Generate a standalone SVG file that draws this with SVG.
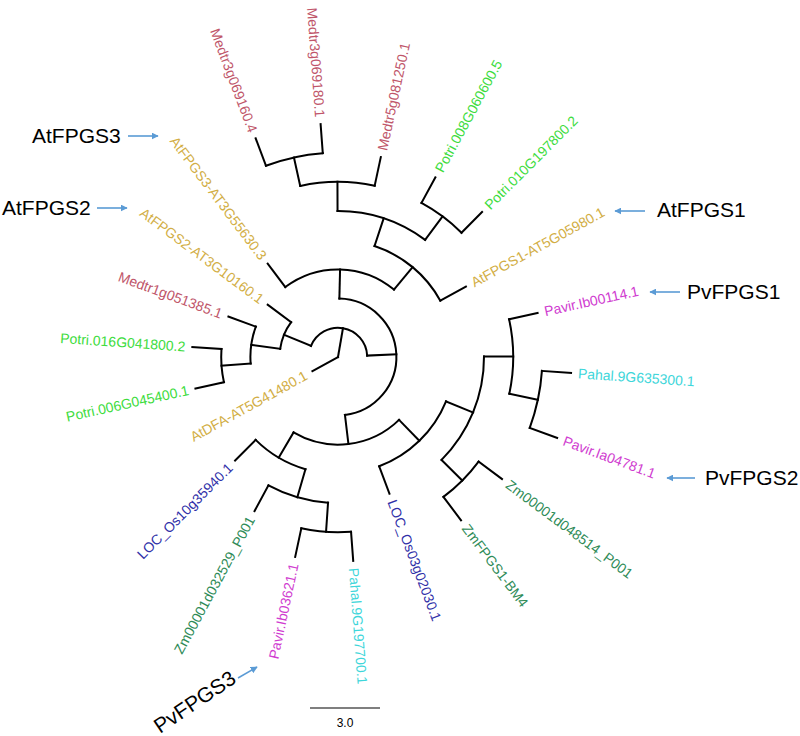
<svg xmlns="http://www.w3.org/2000/svg" width="800" height="736" viewBox="0 0 800 736">
<defs>
<marker id="ah" viewBox="0 0 10 10" refX="9" refY="5" markerWidth="7" markerHeight="7" orient="auto" markerUnits="userSpaceOnUse"><path d="M0,0 L10,5 L0,10 z" fill="#5B9BD5"/></marker>
</defs>
<style>
.br line,.br path{stroke:#000;stroke-width:2;fill:none;stroke-linecap:square}
.lb{font-family:"Liberation Sans",Arial,sans-serif;font-size:14px}
.fl{text-anchor:end}
.medtr{fill:#C0566A}.potri{fill:#3DDC3D}.at{fill:#D2AE45}.pavir{fill:#D03CD0}.pahal{fill:#3ED6DA}.zm{fill:#2E8B57}.loc{fill:#3030A8}
.ann{font-family:"Liberation Sans",Arial,sans-serif;font-size:21px;fill:#000}
.arr{stroke:#5B9BD5;stroke-width:1.6;fill:none;marker-end:url(#ah)}
</style>
<rect width="800" height="736" fill="#fff"/>
<g transform="translate(338,357)">
<g id="connectors" class="br">
<path d="M-27.01,-11.09 A29.2,29.2 0 0 1 29.17,-1.40"/>
<path d="M-57.83,-8.13 A58.4,58.4 0 0 1 -46.86,-34.85"/>
<path d="M-87.36,6.52 A87.6,87.6 0 0 1 -82.18,-30.35"/>
<path d="M-114.06,25.18 A116.8,116.8 0 0 1 -116.53,-7.96"/>
<path d="M1.38,-58.38 A58.4,58.4 0 0 1 6.95,57.99"/>
<path d="M-52.72,-69.96 A87.6,87.6 0 0 1 55.96,-67.40"/>
<path d="M36.54,-110.94 A116.8,116.8 0 0 1 102.33,-56.30"/>
<path d="M-0.46,-146 A146,146 0 0 1 87.14,-117.16"/>
<path d="M-37.77,-171.09 A175.2,175.2 0 0 1 36.70,-171.31"/>
<path d="M-72.05,-191.29 A204.4,204.4 0 0 1 -15.22,-203.83"/>
<path d="M83.46,-154.05 A175.2,175.2 0 0 1 123.50,-124.27"/>
<path d="M61.03,62.85 A87.6,87.6 0 0 1 -44.46,75.48"/>
<path d="M108.05,44.36 A116.8,116.8 0 0 1 41.17,109.31"/>
<path d="M146,-0.46 A146,146 0 0 1 103.56,102.91"/>
<path d="M171.09,-37.77 A175.2,175.2 0 0 1 171.31,36.70"/>
<path d="M203.92,13.94 A204.4,204.4 0 0 1 191.74,70.81"/>
<path d="M140.59,104.56 A175.2,175.2 0 0 1 105.44,139.92"/>
<path d="M-32.55,112.17 A116.8,116.8 0 0 1 -82.33,82.85"/>
<path d="M-9.96,145.66 A146,146 0 0 1 -69.55,128.37"/>
<path d="M13.05,174.71 A175.2,175.2 0 0 1 -36.70,171.31"/>
<line x1="0" x2="29.2" transform="rotate(-80.21)"/>
<line x1="0" x2="29.2" transform="rotate(151.18)"/>
<line x1="29.2" x2="58.4" transform="rotate(202.32)"/>
<line x1="29.2" x2="58.4" transform="rotate(-2.74)"/>
<line x1="58.4" x2="87.6" transform="rotate(188)"/>
<line x1="58.4" x2="87.6" transform="rotate(216.64)"/>
<line x1="87.6" x2="116.8" transform="rotate(175.73)"/>
<line x1="87.6" x2="116.8" transform="rotate(200.27)"/>
<line x1="116.8" x2="146" transform="rotate(167.55)"/>
<line x1="116.8" x2="146" transform="rotate(183.91)"/>
<line x1="58.4" x2="87.6" transform="rotate(-88.65)"/>
<line x1="58.4" x2="87.6" transform="rotate(83.17)"/>
<line x1="87.6" x2="116.8" transform="rotate(-127)"/>
<line x1="87.6" x2="116.8" transform="rotate(-50.30)"/>
<line x1="116.8" x2="146" transform="rotate(-71.77)"/>
<line x1="116.8" x2="146" transform="rotate(-28.82)"/>
<line x1="146" x2="175.2" transform="rotate(-90.18)"/>
<line x1="146" x2="175.2" transform="rotate(-53.36)"/>
<line x1="175.2" x2="204.4" transform="rotate(-102.45)"/>
<line x1="175.2" x2="204.4" transform="rotate(-77.91)"/>
<line x1="204.4" x2="233.6" transform="rotate(-110.64)"/>
<line x1="204.4" x2="233.6" transform="rotate(-94.27)"/>
<line x1="175.2" x2="204.4" transform="rotate(-61.55)"/>
<line x1="175.2" x2="204.4" transform="rotate(-45.18)"/>
<line x1="87.6" x2="116.8" transform="rotate(45.84)"/>
<line x1="87.6" x2="116.8" transform="rotate(120.5)"/>
<line x1="116.8" x2="146" transform="rotate(22.32)"/>
<line x1="116.8" x2="146" transform="rotate(69.36)"/>
<line x1="146" x2="175.2" transform="rotate(-0.18)"/>
<line x1="146" x2="175.2" transform="rotate(44.82)"/>
<line x1="175.2" x2="204.4" transform="rotate(-12.45)"/>
<line x1="175.2" x2="204.4" transform="rotate(12.09)"/>
<line x1="204.4" x2="233.6" transform="rotate(3.91)"/>
<line x1="204.4" x2="233.6" transform="rotate(20.27)"/>
<line x1="175.2" x2="204.4" transform="rotate(36.64)"/>
<line x1="175.2" x2="204.4" transform="rotate(53)"/>
<line x1="116.8" x2="146" transform="rotate(106.18)"/>
<line x1="116.8" x2="146" transform="rotate(134.82)"/>
<line x1="146" x2="175.2" transform="rotate(93.91)"/>
<line x1="146" x2="175.2" transform="rotate(118.45)"/>
<line x1="175.2" x2="204.4" transform="rotate(85.73)"/>
<line x1="175.2" x2="204.4" transform="rotate(102.09)"/>
</g>
<g id="leaf-AtFPGS3"><text class="lb at fl" transform="rotate(53)" x="-123.8" dy="0.35em">AtFPGS3-AT3G55630.3</text></g>
<g id="leaf-Medtr3g069160"><text class="lb medtr fl" transform="rotate(69.36)" x="-240.6" dy="0.35em">Medtr3g069160.4</text></g>
<g id="leaf-Medtr3g069180"><text class="lb medtr fl" transform="rotate(85.73)" x="-240.6" dy="0.35em">Medtr3g069180.1</text></g>
<g id="leaf-Medtr5g081250"><text class="lb medtr" transform="rotate(-77.91)" x="211.4" dy="0.35em">Medtr5g081250.1</text></g>
<g id="leaf-Potri008"><text class="lb potri" transform="rotate(-61.55)" x="211.4" dy="0.35em">Potri.008G060600.5</text></g>
<g id="leaf-Potri010"><text class="lb potri" transform="rotate(-45.18)" x="211.4" dy="0.35em">Potri.010G197800.2</text></g>
<g id="leaf-AtFPGS1"><text class="lb at" transform="rotate(-28.82)" x="153" dy="0.35em">AtFPGS1-AT5G05980.1</text></g>
<g id="leaf-PavirIb00114"><text class="lb pavir" transform="rotate(-12.45)" x="211.4" dy="0.35em">Pavir.Ib00114.1</text></g>
<g id="leaf-Pahal9G635300"><text class="lb pahal" transform="rotate(3.91)" x="240.6" dy="0.35em">Pahal.9G635300.1</text></g>
<g id="leaf-PavirIa04781"><text class="lb pavir" transform="rotate(20.27)" x="240.6" dy="0.35em">Pavir.Ia04781.1</text></g>
<g id="leaf-Zm048514"><text class="lb zm" transform="rotate(36.64)" x="211.4" dy="0.35em">Zm00001d048514_P001</text></g>
<g id="leaf-ZmFPGS1"><text class="lb zm" transform="rotate(53)" x="211.4" dy="0.35em">ZmFPGS1-BM4</text></g>
<g id="leaf-LOCOs03"><text class="lb loc" transform="rotate(69.36)" x="153" dy="0.35em">LOC_Os03g02030.1</text></g>
<g id="leaf-Pahal9G197700"><text class="lb pahal" transform="rotate(85.73)" x="211.4" dy="0.35em">Pahal.9G197700.1</text></g>
<g id="leaf-PavirIb03621"><text class="lb pavir fl" transform="rotate(282.09)" x="-211.4" dy="0.35em">Pavir.Ib03621.1</text></g>
<g id="leaf-Zm032529"><text class="lb zm fl" transform="rotate(298.45)" x="-182.2" dy="0.35em">Zm00001d032529_P001</text></g>
<g id="leaf-LOCOs10"><text class="lb loc fl" transform="rotate(314.82)" x="-153" dy="0.35em">LOC_Os10g35940.1</text></g>
<g id="leaf-AtDFA"><text class="lb at fl" transform="rotate(331.18)" x="-36.2" dy="0.35em">AtDFA-AT5G41480.1</text></g>
<g id="leaf-Potri006"><text class="lb potri fl" transform="rotate(347.55)" x="-153" dy="0.35em">Potri.006G045400.1</text></g>
<g id="leaf-Potri016"><text class="lb potri fl" transform="rotate(3.91)" x="-153" dy="0.35em">Potri.016G041800.2</text></g>
<g id="leaf-Medtr1g051385"><text class="lb medtr fl" transform="rotate(20.27)" x="-123.8" dy="0.35em">Medtr1g051385.1</text></g>
<g id="leaf-AtFPGS2"><text class="lb at fl" transform="rotate(36.64)" x="-94.6" dy="0.35em">AtFPGS2-AT3G10160.1</text></g>
</g>
<g id="annotations">
<g id="ann-AtFPGS3"><text class="ann" x="32" y="143">AtFPGS3</text><line class="arr" x1="128" y1="136" x2="158" y2="136"/></g>
<g id="ann-AtFPGS2"><text class="ann" x="2" y="215">AtFPGS2</text><line class="arr" x1="97" y1="208" x2="127" y2="208"/></g>
<g id="ann-AtFPGS1"><text class="ann" x="657" y="217">AtFPGS1</text><line class="arr" x1="645" y1="211" x2="615" y2="211"/></g>
<g id="ann-PvFPGS1"><text class="ann" x="687" y="299">PvFPGS1</text><line class="arr" x1="680" y1="292" x2="650" y2="292"/></g>
<g id="ann-PvFPGS2"><text class="ann" x="705" y="485">PvFPGS2</text><line class="arr" x1="695" y1="478" x2="667" y2="478"/></g>
<g id="ann-PvFPGS3"><text class="ann" transform="translate(160,734) rotate(-34)">PvFPGS3</text><line class="arr" x1="238" y1="678" x2="257" y2="667"/></g>
</g>
<g id="scalebar">
<line x1="310" y1="708" x2="380" y2="708" stroke="#000" stroke-width="1.2"/>
<text x="345" y="727" text-anchor="middle" font-family="Liberation Sans, Arial, sans-serif" font-size="12" fill="#000">3.0</text>
</g>
</svg>
